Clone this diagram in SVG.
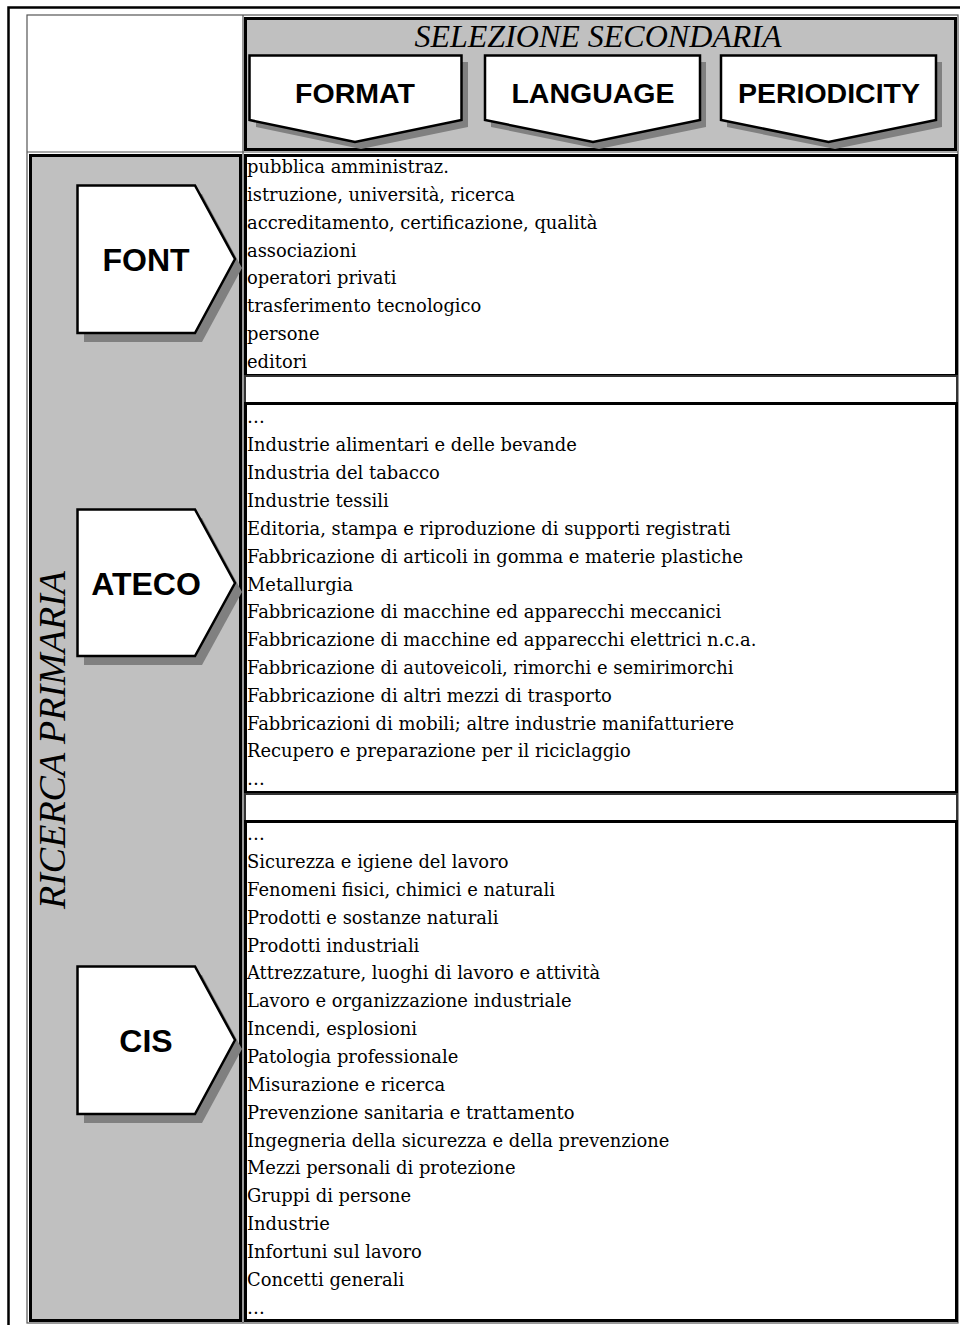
<svg xmlns="http://www.w3.org/2000/svg" width="960" height="1325" viewBox="0 0 960 1325">
  <style>
    .frame { fill: none; stroke: #000; stroke-width: 2.5; }
    .thin { fill: none; stroke: #555; stroke-width: 1.2; }
    .cellgray { fill: #c0c0c0; stroke: #000; stroke-width: 3; }
    .cellwhite { fill: #fff; stroke: #000; stroke-width: 3; }
    .gap { fill: #fff; stroke: #333; stroke-width: 2; }
    .shape { fill: #fff; stroke: #000; stroke-width: 2.5; stroke-linejoin: miter; }
    .shadow { fill: #808080; }
    .lbl { font-family: "Liberation Sans", Arial, sans-serif; font-weight: bold; fill: #000; text-anchor: middle; }
    .title { font-family: "Liberation Serif", "Times New Roman", serif; font-style: italic; fill: #000; text-anchor: middle; }
    .item { font-family: "DejaVu Serif", "Liberation Serif", serif; font-size: 17.9px; fill: #000; }
  </style>

  <rect width="960" height="1325" fill="#fff"/>

  <!-- outer page frame -->
  <path class="frame" d="M8.5,1325 V7.5 H960"/>

  <!-- table outline and grid -->
  <rect class="thin" x="27" y="15" width="931" height="1308"/>
  <line class="thin" x1="243" y1="15" x2="243" y2="1323"/>
  <line class="thin" x1="27" y1="152" x2="958" y2="152"/>

  <!-- header cell: secondary selection -->
  <g id="header">
    <rect class="cellgray" x="245.5" y="18.5" width="710" height="131"/>
    <text class="title" x="598" y="47" font-size="32">SELEZIONE SECONDARIA</text>
  </g>

  <!-- down-pointing column headers -->
  <g id="format">
    <polygon class="shadow" points="256,62 468,62 468,127 361,149 256,127"/>
    <polygon class="shape" points="249.5,55.5 461.5,55.5 461.5,120 355,142 249.5,120"/>
    <text class="lbl" x="355" y="103" font-size="28.5">FORMAT</text>
  </g>
  <g id="language">
    <polygon class="shadow" points="491,62 706,62 706,127 599,149 491,127"/>
    <polygon class="shape" points="485,55.5 700,55.5 700,120 593,142 485,120"/>
    <text class="lbl" x="593" y="103" font-size="28.5">LANGUAGE</text>
  </g>
  <g id="periodicity">
    <polygon class="shadow" points="727,62 942,62 942,127 835,149 727,127"/>
    <polygon class="shape" points="721,55.5 936,55.5 936,120 828.5,142 721,120"/>
    <text class="lbl" x="829" y="103" font-size="28.5">PERIODICITY</text>
  </g>

  <!-- left column: primary search -->
  <g id="primary">
    <rect class="cellgray" x="30.5" y="155.5" width="210" height="1165"/>
    <text class="title" font-size="38" transform="translate(65,740) rotate(-90)">RICERCA PRIMARIA</text>
  </g>

  <!-- right-pointing row headers -->
  <g id="font">
    <polygon class="shadow" points="84,194 202,194 242,268 202,342 84,342"/>
    <polygon class="shape" points="77.5,185.5 195,185.5 235,259 195,333 77.5,333"/>
    <text class="lbl" x="146" y="271" font-size="32">FONT</text>
  </g>
  <g id="ateco">
    <polygon class="shadow" points="84,518 202,518 242,592 202,665 84,665"/>
    <polygon class="shape" points="77.5,509.5 195,509.5 235,583 195,656 77.5,656"/>
    <text class="lbl" x="146" y="595" font-size="32">ATECO</text>
  </g>
  <g id="cis">
    <polygon class="shadow" points="84,975 202,975 242,1049 202,1123 84,1123"/>
    <polygon class="shape" points="77.5,966.5 195,966.5 235,1040 195,1114 77.5,1114"/>
    <text class="lbl" x="146" y="1052" font-size="32">CIS</text>
  </g>

  <!-- value lists -->
  <g id="font-list">
    <rect class="cellwhite" x="245.5" y="155.5" width="711" height="220"/>
    <text class="item" x="247" y="173">pubblica amministraz.</text>
    <text class="item" x="247" y="201">istruzione, università, ricerca</text>
    <text class="item" x="247" y="229">accreditamento, certificazione, qualità</text>
    <text class="item" x="247" y="257">associazioni</text>
    <text class="item" x="247" y="284">operatori privati</text>
    <text class="item" x="247" y="312">trasferimento tecnologico</text>
    <text class="item" x="247" y="340">persone</text>
    <text class="item" x="247" y="368">editori</text>
  </g>

  <rect class="gap" x="245" y="376" width="712" height="27"/>

  <g id="ateco-list">
    <rect class="cellwhite" x="245.5" y="403.5" width="711" height="389"/>
    <text class="item" x="247" y="423">…</text>
    <text class="item" x="247" y="451">Industrie alimentari e delle bevande</text>
    <text class="item" x="247" y="479">Industria del tabacco</text>
    <text class="item" x="247" y="507">Industrie tessili</text>
    <text class="item" x="247" y="535">Editoria, stampa e riproduzione di supporti registrati</text>
    <text class="item" x="247" y="563">Fabbricazione di articoli in gomma e materie plastiche</text>
    <text class="item" x="247" y="591">Metallurgia</text>
    <text class="item" x="247" y="618">Fabbricazione di macchine ed apparecchi meccanici</text>
    <text class="item" x="247" y="646">Fabbricazione di macchine ed apparecchi elettrici n.c.a.</text>
    <text class="item" x="247" y="674">Fabbricazione di autoveicoli, rimorchi e semirimorchi</text>
    <text class="item" x="247" y="702">Fabbricazione di altri mezzi di trasporto</text>
    <text class="item" x="247" y="730">Fabbricazioni di mobili; altre industrie manifatturiere</text>
    <text class="item" x="247" y="757">Recupero e preparazione per il riciclaggio</text>
    <text class="item" x="247" y="785">…</text>
  </g>

  <rect class="gap" x="245" y="794" width="712" height="27"/>

  <g id="cis-list">
    <rect class="cellwhite" x="245.5" y="821.5" width="711" height="499"/>
    <text class="item" x="247" y="840">…</text>
    <text class="item" x="247" y="868">Sicurezza e igiene del lavoro</text>
    <text class="item" x="247" y="896">Fenomeni fisici, chimici e naturali</text>
    <text class="item" x="247" y="924">Prodotti e sostanze naturali</text>
    <text class="item" x="247" y="952">Prodotti industriali</text>
    <text class="item" x="247" y="979">Attrezzature, luoghi di lavoro e attività</text>
    <text class="item" x="247" y="1007">Lavoro e organizzazione industriale</text>
    <text class="item" x="247" y="1035">Incendi, esplosioni</text>
    <text class="item" x="247" y="1063">Patologia professionale</text>
    <text class="item" x="247" y="1091">Misurazione e ricerca</text>
    <text class="item" x="247" y="1119">Prevenzione sanitaria e trattamento</text>
    <text class="item" x="247" y="1147">Ingegneria della sicurezza e della prevenzione</text>
    <text class="item" x="247" y="1174">Mezzi personali di protezione</text>
    <text class="item" x="247" y="1202">Gruppi di persone</text>
    <text class="item" x="247" y="1230">Industrie</text>
    <text class="item" x="247" y="1258">Infortuni sul lavoro</text>
    <text class="item" x="247" y="1286">Concetti generali</text>
    <text class="item" x="247" y="1314">…</text>
  </g>
</svg>
